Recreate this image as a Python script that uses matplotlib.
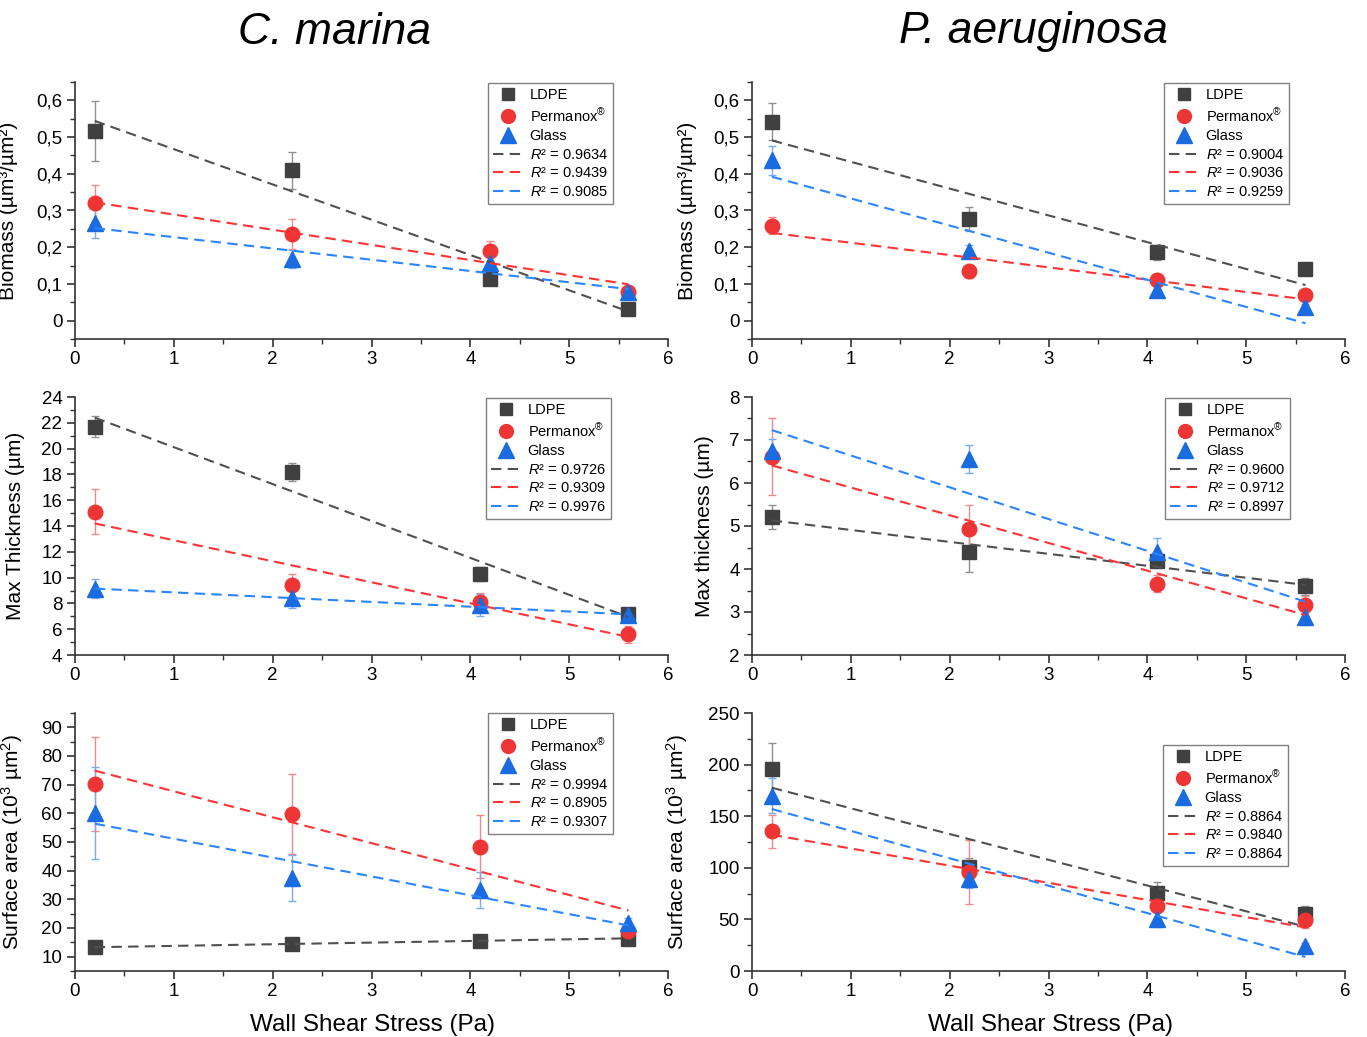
import numpy as np
import matplotlib
matplotlib.use("Agg")
import matplotlib.pyplot as plt
from matplotlib.lines import Line2D
from matplotlib.ticker import MultipleLocator, FuncFormatter

plt.rcParams["font.family"] = ["Liberation Sans", "DejaVu Sans"]
plt.rcParams["mathtext.fontset"] = "custom"
plt.rcParams["mathtext.rm"] = "Liberation Sans"
plt.rcParams["mathtext.it"] = "Liberation Sans:italic"

W, H = 1367, 1037

# wall shear stress (Pa)
x_cm_bio = [0.2, 2.2, 4.2, 5.6]
x_std = [0.2, 2.2, 4.1, 5.6]
x_fit = [0.2, 5.6]

# C. marina - biomass
cm_bio_ldpe = [0.516, 0.409, 0.114, 0.031]
cm_bio_ldpe_sd = [0.082, 0.05, 0.017, 0.005]
cm_bio_perm = [0.32, 0.236, 0.19, 0.077]
cm_bio_perm_sd = [0.05, 0.04, 0.028, 0.01]
cm_bio_glass = [0.266, 0.168, 0.158, 0.079]
cm_bio_glass_sd = [0.04, 0.024, 0.034, 0.01]
cm_bio_fits = [[0.544, 0.025], [0.322, 0.099], [0.252, 0.086]]
cm_bio_r2 = ["0.9634", "0.9439", "0.9085"]

# P. aeruginosa - biomass
pa_bio_ldpe = [0.542, 0.277, 0.186, 0.142]
pa_bio_ldpe_sd = [0.05, 0.033, 0.02, 0.015]
pa_bio_perm = [0.259, 0.134, 0.111, 0.07]
pa_bio_perm_sd = [0.022, 0.017, 0.01, 0.01]
pa_bio_glass = [0.437, 0.189, 0.084, 0.036]
pa_bio_glass_sd = [0.04, 0.018, 0.01, 0.01]
pa_bio_fits = [[0.491, 0.097], [0.239, 0.058], [0.392, -0.007]]
pa_bio_r2 = ["0.9004", "0.9036", "0.9259"]

# C. marina - max thickness
cm_thk_ldpe = [21.7, 18.2, 10.3, 7.15]
cm_thk_ldpe_sd = [0.8, 0.7, 0.55, 0.5]
cm_thk_perm = [15.1, 9.4, 8.1, 5.6]
cm_thk_perm_sd = [1.75, 0.85, 0.7, 0.65]
cm_thk_glass = [9.15, 8.4, 7.85, 7.1]
cm_thk_glass_sd = [0.73, 0.78, 0.85, 0.5]
cm_thk_fits = [[22.4, 6.95], [14.2, 5.4], [9.15, 7.15]]
cm_thk_r2 = ["0.9726", "0.9309", "0.9976"]

# P. aeruginosa - max thickness
pa_thk_ldpe = [5.2, 4.39, 4.18, 3.6]
pa_thk_ldpe_sd = [0.28, 0.47, 0.15, 0.2]
pa_thk_perm = [6.61, 4.93, 3.66, 3.17]
pa_thk_perm_sd = [0.9, 0.55, 0.2, 0.2]
pa_thk_glass = [6.74, 6.56, 4.39, 2.88]
pa_thk_glass_sd = [0.28, 0.33, 0.32, 0.18]
pa_thk_fits = [[5.13, 3.63], [6.41, 2.93], [7.23, 3.24]]
pa_thk_r2 = ["0.9600", "0.9712", "0.8997"]

# C. marina - surface area
cm_sa_ldpe = [13.3, 14.3, 15.5, 16.0]
cm_sa_ldpe_sd = [1.0, 1.0, 1.2, 1.2]
cm_sa_perm = [70.3, 59.8, 48.4, 18.8]
cm_sa_perm_sd = [16.3, 14.0, 11.0, 2.5]
cm_sa_glass = [60.1, 37.4, 33.3, 21.9]
cm_sa_glass_sd = [16.0, 8.0, 6.3, 1.5]
cm_sa_fits = [[13.3, 16.4], [74.9, 26.1], [56.4, 20.9]]
cm_sa_r2 = ["0.9994", "0.8905", "0.9307"]

# P. aeruginosa - surface area
pa_sa_ldpe = [195.5, 100.6, 76.0, 55.2]
pa_sa_ldpe_sd = [25.0, 9.0, 10.0, 8.0]
pa_sa_perm = [135.4, 96.4, 63.0, 49.4]
pa_sa_perm_sd = [16.0, 31.0, 6.0, 8.0]
pa_sa_glass = [170.0, 89.0, 50.3, 24.0]
pa_sa_glass_sd = [17.0, 9.0, 8.0, 3.0]
pa_sa_fits = [[177.6, 42.9], [132.0, 42.2], [157.0, 13.6]]
pa_sa_r2 = ["0.8864", "0.9840", "0.8864"]

names = ["LDPE", "Permanox$^{®}$", "Glass"]
mcolors = ["#404040", "#ee3535", "#1a6ae0"]
ecolors = ["#909090", "#f08a8a", "#7aaaf0"]
lcolors = ["#505050", "#ff3333", "#2a85ff"]
markers = ["s", "o", "^"]
msizes = [9.5, 10.5, 11.5]

def comma(v, pos):
    if abs(v) < 1e-9:
        return "0"
    return f"{v:.1f}".replace(".", ",")

panels = [
    # x, values, sds, fits, r2, ylim, major, minor, ylabel, axes box px, legend px, label x px, comma
    (x_cm_bio, [cm_bio_ldpe, cm_bio_perm, cm_bio_glass],
     [cm_bio_ldpe_sd, cm_bio_perm_sd, cm_bio_glass_sd], cm_bio_fits, cm_bio_r2,
     (-0.05, 0.65), 0.1, 0.05, "Biomass (µm³/µm²)", (75, 82, 668, 339), (488, 83), 18, True),
    (x_std, [pa_bio_ldpe, pa_bio_perm, pa_bio_glass],
     [pa_bio_ldpe_sd, pa_bio_perm_sd, pa_bio_glass_sd], pa_bio_fits, pa_bio_r2,
     (-0.05, 0.65), 0.1, 0.05, "Biomass (µm³/µm²)", (752, 82, 1345, 339), (1164, 83), 697, True),
    (x_std, [cm_thk_ldpe, cm_thk_perm, cm_thk_glass],
     [cm_thk_ldpe_sd, cm_thk_perm_sd, cm_thk_glass_sd], cm_thk_fits, cm_thk_r2,
     (4, 24), 2, 1, "Max Thickness (µm)", (75, 397, 668, 655), (486, 398), 25, False),
    (x_std, [pa_thk_ldpe, pa_thk_perm, pa_thk_glass],
     [pa_thk_ldpe_sd, pa_thk_perm_sd, pa_thk_glass_sd], pa_thk_fits, pa_thk_r2,
     (2, 8), 1, 0.5, "Max thickness (µm)", (752, 397, 1345, 655), (1165, 398), 714, False),
    (x_std, [cm_sa_ldpe, cm_sa_perm, cm_sa_glass],
     [cm_sa_ldpe_sd, cm_sa_perm_sd, cm_sa_glass_sd], cm_sa_fits, cm_sa_r2,
     (5, 95), 10, 5, "Surface area (10$^3$ µm$^2$)", (75, 713, 668, 971), (488, 713), 25, False),
    (x_std, [pa_sa_ldpe, pa_sa_perm, pa_sa_glass],
     [pa_sa_ldpe_sd, pa_sa_perm_sd, pa_sa_glass_sd], pa_sa_fits, pa_sa_r2,
     (0, 250), 50, 25, "Surface area (10$^3$ µm$^2$)", (752, 713, 1345, 971), (1163, 745), 690, False),
]

fig = plt.figure(figsize=(W / 100, H / 100), dpi=100)

for (xs, vals, sds, fits, r2, ylim, major, minor, ylabel, box, legpos, labx, use_comma) in panels:
    x0, y0, x1, y1 = box
    ax = fig.add_axes([x0 / W, 1 - y1 / H, (x1 - x0) / W, (y1 - y0) / H])
    for i in range(3):
        ax.errorbar(xs, vals[i], yerr=sds[i], fmt="none", ecolor=ecolors[i],
                    elinewidth=1, capsize=3, capthick=1, zorder=2)
        ax.plot(xs, vals[i], linestyle="none", marker=markers[i], ms=msizes[i],
                color=mcolors[i], mec=mcolors[i], zorder=3)
    for i in range(3):
        ax.plot(x_fit, fits[i], color=lcolors[i], lw=1.5, dashes=(5, 3), zorder=4)

    ax.set_xlim(0, 6)
    ax.set_ylim(*ylim)
    ax.xaxis.set_major_locator(MultipleLocator(1))
    ax.xaxis.set_minor_locator(MultipleLocator(0.5))
    ax.yaxis.set_major_locator(MultipleLocator(major))
    ax.yaxis.set_minor_locator(MultipleLocator(minor))
    if use_comma:
        ax.yaxis.set_major_formatter(FuncFormatter(comma))
    for s in ["top", "right"]:
        ax.spines[s].set_visible(False)
    for s in ["left", "bottom"]:
        ax.spines[s].set_color("#333333")
        ax.spines[s].set_linewidth(1.2)
    ax.tick_params(which="major", direction="out", length=6, width=1.2,
                   color="#333333", labelsize=13.5, pad=3)
    ax.tick_params(which="minor", direction="out", length=3.5, width=1.0,
                   color="#333333")
    ax.set_ylabel(ylabel, fontsize=15)
    ax.yaxis.set_label_coords(labx / W, 1 - ((y0 + y1) / 2) / H,
                              transform=fig.transFigure)

    handles = []
    for i in range(3):
        handles.append(Line2D([], [], linestyle="none", marker=markers[i],
                              ms=msizes[i] * 0.95, color=mcolors[i]))
    for i in range(3):
        handles.append(Line2D([], [], color=lcolors[i], lw=1.5, dashes=(5, 3)))
    labels = names + [f"$\\it{{R}}$² = {r}" for r in r2]
    leg = fig.legend(handles, labels, loc="upper left",
                     bbox_to_anchor=(legpos[0] / W, 1 - legpos[1] / H),
                     bbox_transform=fig.transFigure, borderaxespad=0,
                     fontsize=10.5, frameon=True, fancybox=False,
                     edgecolor="#808080", framealpha=1, handlelength=2.1,
                     handletextpad=0.4, labelspacing=0.32, borderpad=0.35)
    leg.get_frame().set_linewidth(1.0)

fig.text(335 / W, 1 - 32 / H, "C. marina", fontsize=32, style="italic",
         ha="center", va="center")
fig.text(1033 / W, 1 - 32 / H, "P. aeruginosa", fontsize=32, style="italic",
         ha="center", va="center")
fig.text(372 / W, 1 - 1025 / H, "Wall Shear Stress (Pa)", fontsize=17.5,
         ha="center", va="center")
fig.text(1050 / W, 1 - 1025 / H, "Wall Shear Stress (Pa)", fontsize=17.5,
         ha="center", va="center")

fig.savefig("out.png", dpi=100)
